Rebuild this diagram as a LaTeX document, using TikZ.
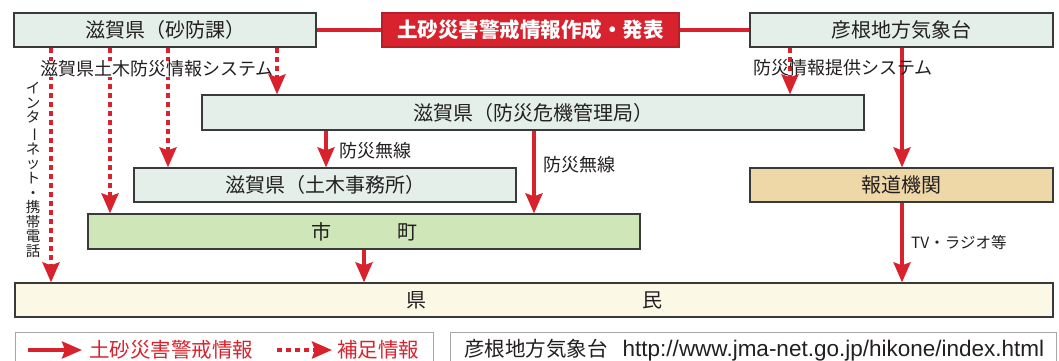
\documentclass[tikz,border=0pt]{standalone}
\usepackage{fontspec}
\setmainfont{Noto Sans CJK JP}
\newfontfamily\latinfont{Liberation Sans}
\usepackage{graphicx}
\usetikzlibrary{arrows.meta,positioning,calc}
\definecolor{redline}{HTML}{D8232E}
\definecolor{boxfill}{HTML}{E4EFEA}
\definecolor{cityfill}{HTML}{CFE6B9}
\definecolor{pressfill}{HTML}{EFD8A7}
\definecolor{peoplefill}{HTML}{FBF9E6}
\definecolor{boxline}{HTML}{3A3A3A}
\definecolor{inkgray}{HTML}{231F20}

\begin{document}
\begin{tikzpicture}[
    x=1pt, y=-1pt,
    box/.style={rectangle, draw=boxline, line width=1.3pt, fill=boxfill, inner sep=0pt, minimum height=34pt, text=inkgray, font=\fontsize{20}{24}\selectfont},
    alertbox/.style={box, draw=redline!85!black, fill=redline, text=white, font=\fontsize{20.5}{24}\selectfont\bfseries},
    legendbox/.style={rectangle, draw=gray!70, line width=1pt, fill=white, minimum height=40pt, anchor=north west},
    note/.style={inner sep=0pt, anchor=west, text=inkgray, font=\fontsize{18}{22}\selectfont},
    arrow/.style={draw=redline, line width=3.5pt, -{Stealth[width=17pt,length=20pt,inset=3pt]}},
    dasharrow/.style={arrow, dash pattern=on 5pt off 4pt},
    link/.style={draw=redline, line width=3.5pt}
]
\clip (0,0) rectangle (1059,360);

\node[box, minimum width=302pt] (sabo) at (165,30) {滋賀県（砂防課）};
\node[alertbox, minimum width=297pt] (alert) at (530.5,30) {土砂災害警戒情報作成・発表};
\node[box, minimum width=303pt] (hikone) at (901.5,30) {彦根地方気象台};
\node[box, minimum width=662pt, minimum height=35pt] (kiki) at (533,112.5) {滋賀県（防災危機管理局）};
\node[box, minimum width=382pt] (doboku) at (325,185) {滋賀県（土木事務所）};
\node[box, fill=cityfill, minimum width=552pt, minimum height=35pt] (city) at (364,231.5) {市\hspace{66pt}町};
\node[box, fill=pressfill, minimum width=303pt] (press) at (901.5,185) {報道機関};
\node[box, fill=peoplefill, minimum width=1038pt] (people) at (534,300) {県\hspace{216pt}民};

\node[legendbox, minimum width=418pt] (keyleft) at (15,332) {};
\node[legendbox, minimum width=606pt] (keyright) at (450,332) {};

\coordinate (c1) at (51,0);
\coordinate (c2) at (110,0);
\coordinate (c3) at (168,0);
\coordinate (c4) at (277,0);
\coordinate (c5) at (790,0);
\coordinate (c6) at (902,0);
\coordinate (c7) at (326,0);
\coordinate (c8) at (534,0);

\draw[link] (sabo.east) -- (alert.west);
\draw[link] (alert.east) -- (hikone.west);

\draw[dasharrow] (sabo.south -| c1) -- (people.north -| c1);
\draw[dasharrow] (sabo.south -| c2) -- (city.north -| c2);
\draw[dasharrow] (sabo.south -| c3) -- (doboku.north -| c3);
\draw[dasharrow] (hikone.south -| c5) -- (kiki.north -| c5);
\draw[arrow] (hikone.south -| c6) -- (press.north -| c6);
\draw[arrow] (kiki.south -| c7) -- (doboku.north -| c7);
\draw[arrow] (kiki.south -| c8) -- (city.north -| c8);
\draw[arrow] (city.south) -- (people.north -| city.south);
\draw[arrow] (press.south -| c6) -- (people.north -| c6);

\node[note, fill=white] (sysleft) at (40,69) {滋賀県土木防災情報システム};
\node[note] (sysright) at (753,68) {防災情報提供システム};
\node[note] (radioa) at (339,151) {防災無線};
\node[note] (radiob) at (543,165) {防災無線};
\node[note, font=\fontsize{15.5}{18}\selectfont] (media) at (911,243) {TV・ラジオ等};
\node[note, anchor=center, align=center, font=\fontsize{14.5}{14.6}\selectfont] (net) at (33,170) {イ\\ン\\タ\\\rotatebox[origin=c]{-90}{ー}\\ネ\\ッ\\ト\\・\\携\\帯\\電\\話};

\draw[dasharrow] (sabo.south -| c4) -- (kiki.north -| c4);

\coordinate (k1) at (28,350);
\coordinate (k2) at (82,350);
\coordinate (k3) at (277,350);
\coordinate (k4) at (332,350);
\draw[arrow] (k1) -- (k2);
\draw[dasharrow] (k3) -- (k4);
\node[note, text=redline, font=\fontsize{20.5}{24}\selectfont] (keysolid) at (89,350) {土砂災害警戒情報};
\node[note, text=redline, font=\fontsize{20.5}{24}\selectfont] (keydash) at (337,350) {補足情報};
\node[note, font=\fontsize{20.5}{24}\selectfont] (keysite) at (464,350) {彦根地方気象台\hspace{15pt}{\latinfont\fontsize{22.5}{26}\selectfont http://www.jma-net.go.jp/hikone/index.html}};

\end{tikzpicture}
\end{document}
